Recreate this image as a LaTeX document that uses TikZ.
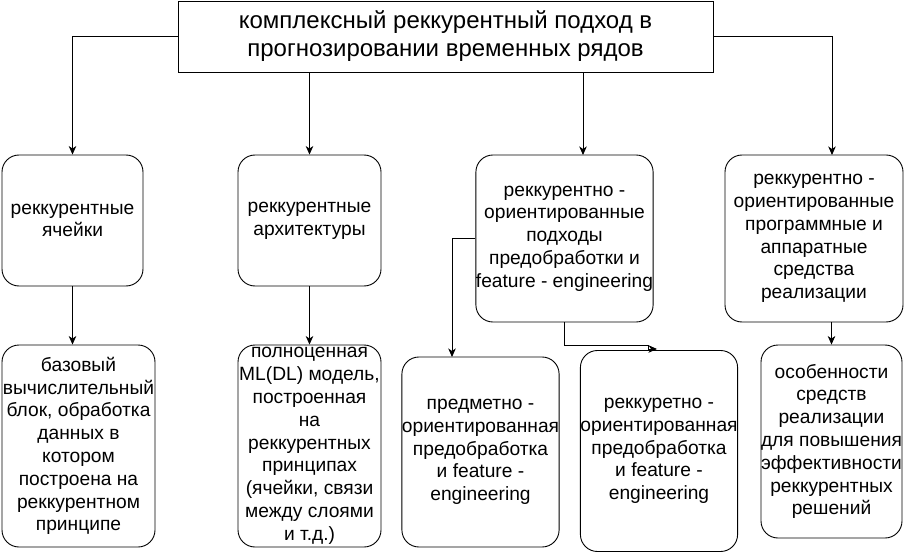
\documentclass[tikz,border=0pt]{standalone}
\usepackage{fontspec}
\setmainfont{Liberation Sans}
\usepackage{tikz}
\usetikzlibrary{arrows.meta}
\tikzset{
  topic/.style={draw=black,line width=0.9pt,inner sep=0pt,align=center,
    font=\fontsize{24}{28}\selectfont},
  blk/.style={draw=black,line width=0.9pt,rounded corners=17pt,inner sep=0pt,
    fill=white,align=center,font=\fontsize{19.2}{22.8}\selectfont},
  barr/.style={-{Stealth[length=8.5pt,width=7.5pt,inset=2.5pt]},line width=0.9pt},
}
\begin{document}
\begin{tikzpicture}[x=1pt,y=-1pt]
    \useasboundingbox (0,0) rectangle (904,553);
    \node[topic,minimum width=535pt,minimum height=71pt] (top) at (445.5,36.5)
      {комплексный реккурентный подход в\\прогнозировании временных рядов};
    % first row
    \node[blk,minimum width=141pt,minimum height=131pt] (b1) at (72.5,220.5)
      {реккурентные\\ячейки};
    \node[blk,minimum width=143pt,minimum height=131pt] (b2) at (309.5,220.5)
      {реккурентные\\архитектуры};
    \node[blk,minimum width=177pt,minimum height=167pt] (b3) at (564.5,238.5)
      {реккурентно -\\ориентированные\\подходы\\предобработки и\\feature - engineering};
    \node[blk,minimum width=178pt,minimum height=167pt] (b4) at (814,238.5)
      {реккурентно -\\ориентированные\\программные и\\аппаратные\\средства\\реализации};
    % second row
    \node[blk,minimum width=153pt,minimum height=202pt] (b5) at (78.5,446)
      {базовый\\вычислительный\\блок, обработка\\данных в\\котором\\построена на\\реккурентном\\принципе};
    \node[blk,minimum width=143pt,minimum height=202pt] (b6) at (309.5,446)
      {полноценная\\ML(DL) модель,\\построенная\\на\\реккурентных\\принципах\\(ячейки, связи\\между слоями\\и т.д.)};
    \node[blk,minimum width=155pt,minimum height=190pt] (b7) at (480.5,452)
      {предметно -\\ориентированная\\предобработка\\и feature -\\engineering};
    \node[blk,minimum width=152pt,minimum height=201pt] (b8) at (659,451)
      {реккуретно -\\ориентированная\\предобработка\\и feature -\\engineering};
    \node[blk,minimum width=141pt,minimum height=193pt] (b9) at (831.5,441.5)
      {особенности\\средств\\реализации\\для повышения\\эффективности\\реккурентных\\решений};
    % arrow ends
    \coordinate (k3) at (583,155);
    \coordinate (k4) at (832,155);
    \coordinate (k7) at (452,357);
    \coordinate (k8) at (657,349);
    \draw[barr] (top.west) -| (b1.north);
    \draw[barr] (top.south -| b2.north) -- (b2.north);
    \draw[barr] (top.south -| k3) -- (k3);
    \draw[barr] (top.east) -| (k4);
    \draw[barr] (b1.south) -- (b1.south |- b5.north);
    \foreach \s/\t in {b2/b6,b4/b9}
      \draw[barr] (\t.north |- \s.south) -- (\t.north);
    \draw[barr] (b3.west) -| (k7);
    \draw[barr] (b3.south) |- (648,345) |- (k8);
\end{tikzpicture}
\end{document}
